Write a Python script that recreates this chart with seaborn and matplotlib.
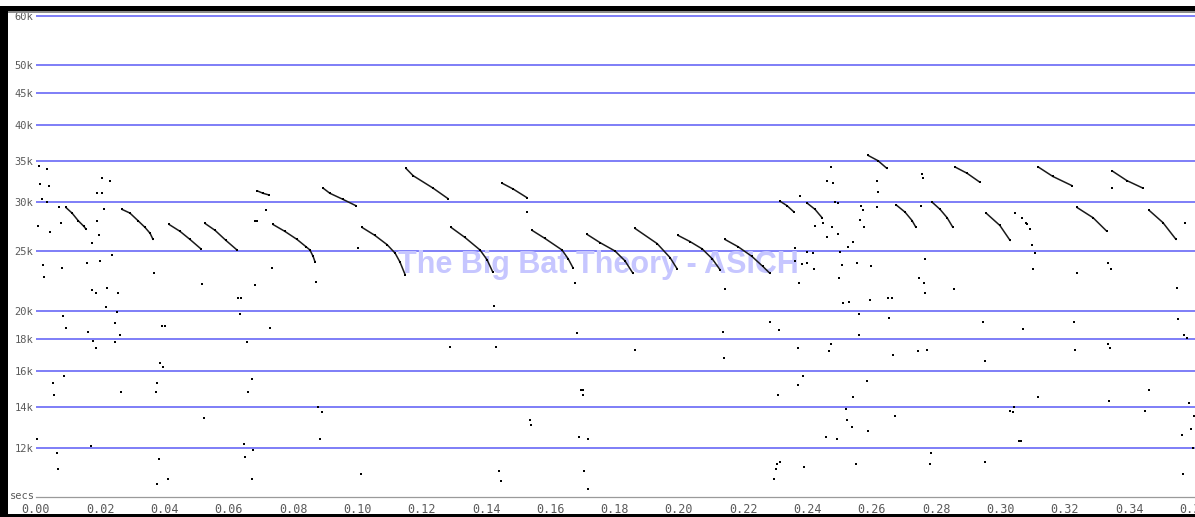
import matplotlib
matplotlib.use("Agg")
import matplotlib.pyplot as plt
from matplotlib.patches import Rectangle
from matplotlib.ticker import FixedLocator, NullLocator, MultipleLocator, FuncFormatter
import pandas as pd
import seaborn as sns

# ---- pulses in the 23-30 kHz band (time in s, frequency in kHz) ----
lower_t = [
    [0.0093, 0.0112, 0.0131, 0.0149, 0.0156],
    [0.0267, 0.0292, 0.0317, 0.0339, 0.0355, 0.0364],
    [0.0414, 0.0448, 0.0479, 0.0513],
    [0.0526, 0.0557, 0.0591, 0.0625],
    [0.0737, 0.0774, 0.0812, 0.0840, 0.0852, 0.0862, 0.0868],
    [0.1014, 0.1054, 0.1092, 0.1117, 0.1132, 0.1148],
    [0.1291, 0.1334, 0.1381, 0.1403, 0.1421],
    [0.1543, 0.1583, 0.1636, 0.1655, 0.1670],
    [0.1714, 0.1754, 0.1801, 0.1832, 0.1857],
    [0.1863, 0.1932, 0.1972, 0.1994],
    [0.1997, 0.2034, 0.2072, 0.2103, 0.2128],
    [0.2143, 0.2184, 0.2227, 0.2261, 0.2283],
    [0.2314, 0.2336, 0.2358],
    [0.2398, 0.2423, 0.2445],
    [0.2675, 0.2703, 0.2725, 0.2737],
    [0.2787, 0.2812, 0.2834, 0.2852],
    [0.2955, 0.2998, 0.3030],
    [0.3238, 0.3288, 0.3331],
    [0.3462, 0.3505, 0.3546],
]
lower_f = [
    [29.4, 28.8, 28.0, 27.4, 27.1],
    [29.2, 28.8, 28.0, 27.3, 26.7, 26.1],
    [27.6, 26.9, 26.1, 25.2],
    [27.7, 27.0, 26.0, 25.1],
    [27.6, 26.9, 26.1, 25.4, 25.1, 24.5, 24.0],
    [27.3, 26.5, 25.6, 24.8, 24.0, 22.9],
    [27.3, 26.3, 25.1, 24.2, 23.1],
    [27.0, 26.2, 25.1, 24.3, 23.5],
    [26.6, 25.8, 25.0, 24.1, 23.0],
    [27.2, 25.7, 24.4, 23.4],
    [26.5, 25.9, 25.2, 24.3, 23.3],
    [26.1, 25.4, 24.5, 23.6, 23.0],
    [30.1, 29.6, 28.9],
    [29.9, 29.2, 28.3],
    [29.7, 28.9, 28.0, 27.3],
    [30.0, 29.2, 28.3, 27.3],
    [28.8, 27.5, 26.0],
    [29.4, 28.3, 26.9],
    [29.1, 27.8, 26.1],
]

# ---- pulses in the 30-36 kHz band ----
upper_t = [
    [0.0687, 0.0706, 0.0725],
    [0.0893, 0.0914, 0.0955, 0.0995],
    [0.1151, 0.1173, 0.1235, 0.1281],
    [0.1449, 0.1484, 0.1527],
    [0.2588, 0.2619, 0.2647],
    [0.2858, 0.2896, 0.2936],
    [0.3117, 0.3163, 0.3222],
    [0.3347, 0.3393, 0.3443],
]
upper_f = [
    [31.3, 31.0, 30.8],
    [31.6, 31.0, 30.3, 29.6],
    [34.0, 33.1, 31.6, 30.4],
    [32.2, 31.5, 30.5],
    [35.7, 35.0, 34.0],
    [34.2, 33.4, 32.3],
    [34.2, 33.0, 31.9],
    [33.7, 32.5, 31.6],
]

# ---- isolated zero-crossing points ----
noise_early_t = [0.0003, 0.0006, 0.0009, 0.0012, 0.0019, 0.0022, 0.0025, 0.0034, 0.0034, 0.0040,
                 0.0044, 0.0053, 0.0056, 0.0065, 0.0068, 0.0072, 0.0078, 0.0081, 0.0084, 0.0087,
                 0.0093, 0.0159, 0.0162, 0.0171, 0.0174, 0.0174, 0.0177, 0.0187, 0.0187, 0.0190,
                 0.0190, 0.0196, 0.0199, 0.0205, 0.0205, 0.0212, 0.0218, 0.0221, 0.0230, 0.0236,
                 0.0246, 0.0246, 0.0252, 0.0255, 0.0261, 0.0264, 0.0367, 0.0373, 0.0376, 0.0376,
                 0.0383, 0.0386, 0.0392, 0.0395, 0.0401, 0.0411, 0.0516, 0.0523, 0.0628, 0.0635,
                 0.0638, 0.0647, 0.0650, 0.0656, 0.0659, 0.0672, 0.0672, 0.0675, 0.0681, 0.0687,
                 0.0681, 0.0715, 0.0728, 0.0734, 0.0871, 0.0877, 0.0883, 0.0890]
noise_early_f = [12.4, 27.4, 34.3, 32.1, 30.4, 23.7, 22.7, 33.9, 30.0, 31.8,
                 26.8, 15.3, 14.6, 11.8, 11.1, 29.5, 27.8, 23.5, 19.6, 15.7,
                 18.8, 23.9, 18.5, 12.1, 25.8, 21.6, 17.9, 21.4, 17.4, 31.0,
                 28.0, 26.5, 24.1, 31.0, 32.8, 29.2, 20.3, 21.8, 32.4, 24.6,
                 19.1, 17.8, 19.9, 21.4, 18.3, 14.8, 23.0, 14.8, 15.3, 10.5,
                 11.5, 16.5, 18.9, 16.2, 18.9, 10.7, 22.1, 13.4, 21.0, 19.8,
                 21.0, 12.2, 11.6, 17.8, 14.8, 15.5, 10.7, 11.9, 28.0, 28.0,
                 22.0, 29.1, 18.8, 23.5, 22.3, 14.0, 12.4, 13.7]

noise_mid_t = [0.1002, 0.1011, 0.1288, 0.1425, 0.1431, 0.1440, 0.1446, 0.1527, 0.1537, 0.1540,
               0.1676, 0.1683, 0.1689, 0.1695, 0.1701, 0.1701, 0.1704, 0.1717, 0.1717, 0.1863,
               0.2137, 0.2140, 0.2143, 0.2283, 0.2295, 0.2302, 0.2305, 0.2308, 0.2311, 0.2314,
               0.2361, 0.2361, 0.2370, 0.2370, 0.2373, 0.2376, 0.2383, 0.2386, 0.2389, 0.2398,
               0.2398]
noise_mid_f = [25.3, 10.9, 17.5, 20.4, 17.5, 11.0, 10.6, 28.9, 13.3, 13.1,
               22.2, 18.4, 12.5, 14.9, 14.9, 14.6, 11.0, 12.4, 10.3, 17.3,
               18.5, 16.8, 21.7, 19.2, 10.7, 11.1, 11.3, 14.6, 18.6, 11.4,
               25.3, 24.1, 17.4, 15.2, 22.2, 30.7, 23.8, 15.7, 11.2, 24.9,
               23.9]

noise_late_t = [0.2417, 0.2420, 0.2423, 0.2448, 0.2457, 0.2460, 0.2460, 0.2467, 0.2473, 0.2473,
                0.2476, 0.2479, 0.2485, 0.2491, 0.2494, 0.2494, 0.2497, 0.2501, 0.2507, 0.2510,
                0.2519, 0.2523, 0.2526, 0.2529, 0.2538, 0.2541, 0.2541, 0.2551, 0.2554, 0.2560,
                0.2560, 0.2563, 0.2566, 0.2572, 0.2576, 0.2585, 0.2588, 0.2594, 0.2597, 0.2616,
                0.2616, 0.2619, 0.2650, 0.2653, 0.2663, 0.2666, 0.2672, 0.2743, 0.2746, 0.2753,
                0.2756, 0.2759, 0.2762, 0.2765, 0.2765, 0.2771, 0.2781, 0.2784, 0.2855, 0.2946,
                0.2952, 0.2952, 0.3030, 0.3039, 0.3042, 0.3045, 0.3058, 0.3064, 0.3067, 0.3070,
                0.3079, 0.3082, 0.3092, 0.3098, 0.3101, 0.3107, 0.3117, 0.3229, 0.3232, 0.3238,
                0.3334, 0.3334, 0.3338, 0.3341, 0.3344, 0.3347, 0.3449, 0.3462, 0.3549, 0.3552,
                0.3565, 0.3568, 0.3571, 0.3574, 0.3580, 0.3586, 0.3593, 0.3599, 0.3602]
noise_late_f = [24.8, 23.4, 27.4, 27.8, 12.5, 32.5, 26.3, 17.2, 17.7, 34.2,
                27.3, 32.2, 30.0, 12.4, 29.9, 26.6, 22.6, 24.9, 23.7, 20.6,
                13.9, 13.3, 25.4, 20.7, 13.0, 25.9, 14.5, 11.3, 23.9, 19.8,
                18.3, 28.1, 29.6, 29.1, 27.3, 15.4, 12.8, 20.8, 23.6, 32.5,
                29.5, 31.2, 21.0, 19.5, 21.0, 17.0, 13.5, 17.2, 22.6, 29.6,
                33.3, 32.8, 22.2, 24.3, 21.4, 17.3, 11.3, 11.8, 21.7, 19.2,
                16.6, 11.4, 13.8, 13.7, 14.0, 28.8, 12.3, 12.3, 28.3, 18.7,
                27.8, 27.6, 27.1, 25.6, 23.4, 24.8, 14.5, 19.2, 17.3, 23.0,
                23.9, 17.7, 14.3, 17.4, 23.4, 31.6, 13.8, 14.9, 21.8, 19.4,
                12.6, 10.9, 18.3, 27.8, 18.1, 14.2, 12.9, 12.0, 13.5]

freq_ticks = [12, 14, 16, 18, 20, 25, 30, 35, 40, 45, 50, 60]
freq_labels = ["12k", "14k", "16k", "18k", "20k", "25k", "30k", "35k", "40k", "45k", "50k", "60k"]

# ---- assemble tidy tables ----
pulse_rows = []
for pid, (ts, fs) in enumerate(zip(lower_t + upper_t, lower_f + upper_f)):
    for t, f in zip(ts, fs):
        pulse_rows.append({"pulse": pid, "t": t, "f": f})
pulses = pd.DataFrame(pulse_rows)

points = pd.DataFrame({
    "t": noise_early_t + noise_mid_t + noise_late_t,
    "f": noise_early_f + noise_mid_f + noise_late_f,
})

# ---- figure ----
sns.set_theme(style="white")
plt.rcParams["font.family"] = ["DejaVu Sans Mono"]

W, H = 1195, 517
fig = plt.figure(figsize=(W / 100, H / 100), dpi=100, facecolor="white")
ax = fig.add_axes([36 / W, 20 / H, (W - 36) / W, 485 / H])
ax.set_facecolor("white")

sns.lineplot(data=pulses, x="t", y="f", units="pulse", estimator=None, sort=False,
             color="#1a1a1a", lw=1.1, ax=ax, zorder=4, legend=False)
sns.scatterplot(data=pulses, x="t", y="f", marker="s", s=4, color="black",
                linewidth=0, ax=ax, zorder=5, legend=False)
sns.scatterplot(data=points, x="t", y="f", marker="s", s=3.5, color="black",
                linewidth=0, ax=ax, zorder=5, legend=False)

ax.set_yscale("log")
ax.set_ylim(10.0, 60.9)
ax.set_xlim(0.0, 0.3605)
ax.yaxis.set_major_locator(FixedLocator(freq_ticks))
ax.yaxis.set_minor_locator(NullLocator())
ax.set_yticklabels(freq_labels)
ax.xaxis.set_major_locator(MultipleLocator(0.02))
ax.xaxis.set_minor_locator(MultipleLocator(0.01))
ax.xaxis.set_major_formatter(FuncFormatter(lambda v, p: f"{v:.2f}"))
ax.set_xlabel("")
ax.set_ylabel("")

ax.grid(axis="y", which="major", color="#7e7ef7", lw=1.4)
ax.grid(axis="x", visible=False)
ax.set_axisbelow(True)

for side in ("left", "top", "right"):
    ax.spines[side].set_visible(False)
ax.spines["bottom"].set_color("#9a9a9a")
ax.spines["bottom"].set_linewidth(0.9)

ax.tick_params(axis="y", length=0, pad=2, labelsize=7.5, labelcolor="#5a5a5a")
ax.tick_params(axis="x", which="major", direction="in", length=4.5, width=0.8,
               color="#808080", pad=4, labelsize=8.5, labelcolor="#5a5a5a")
ax.tick_params(axis="x", which="minor", direction="in", length=2.0, width=0.8,
               color="#808080")

# watermark
ax.text(598 / W, 1 - 273 / H, "The Big Bat Theory - ASICH", transform=fig.transFigure,
        ha="center", va="baseline", fontsize=22, fontweight="bold",
        family=["Liberation Sans", "DejaVu Sans"], color="#c6c6ff", zorder=1.5)

# time axis caption
fig.text(10 / W, 1 - 496 / H, "secs", ha="left", va="center", fontsize=7.5, color="#5a5a5a")

# window frame
fig.add_artist(Rectangle((0, 1 - 11 / H), 1, 5 / H, transform=fig.transFigure,
                         facecolor="black", edgecolor="none", zorder=10))
fig.add_artist(Rectangle((0, 1 - 12.5 / H), 1, 1.5 / H, transform=fig.transFigure,
                         facecolor="#8c8c8c", edgecolor="none", zorder=10))
fig.add_artist(Rectangle((0, 0), 8 / W, 1 - 6 / H, transform=fig.transFigure,
                         facecolor="black", edgecolor="none", zorder=10))
fig.add_artist(Rectangle((0, 0), 1, 3 / H, transform=fig.transFigure,
                         facecolor="black", edgecolor="none", zorder=10))

fig.savefig("out.png", dpi=100, facecolor="white")
